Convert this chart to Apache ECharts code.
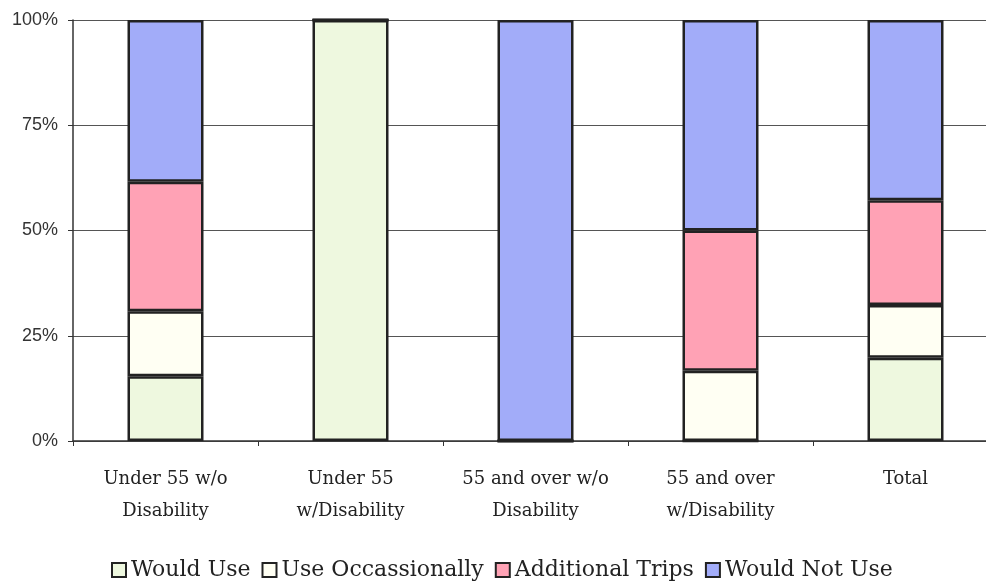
<!DOCTYPE html>
<html>
<head>
<meta charset="utf-8">
<script src="https://cdn.jsdelivr.net/npm/echarts@6/dist/echarts.min.js"></script>
<style>
  html, body { margin: 0; padding: 0; background: #fff; overflow: hidden; }
  /* the chart is a little wider than the window so the plot runs off the right edge */
  #chart { width: 1010px; height: 583px; }
</style>
</head>
<body>
<div id="chart"></div>
<script>
// Respondent groups and the share (%) giving each answer
const categories = ['Under 55 w/o\nDisability', 'Under 55\nw/Disability', '55 and over w/o\nDisability', '55 and over\nw/Disability', 'Total'];
const seriesNames = ['Would Use', 'Use Occassionally', 'Additional Trips', 'Would Not Use'];
const wouldUse        = [15.4, 100, 0, 0, 19.8];
const useOccasionally = [15.4, 0, 0, 16.7, 12.5];
const additionalTrips = [30.8, 0, 0, 33.3, 24.9];
const wouldNotUse     = [38.4, 0, 100, 50, 42.8];
const yTicks = [0, 25, 50, 75, 100];

const colors = ['#eef8df', '#fffff3', '#ffa2b5', '#a2acf9'];
const values = [wouldUse, useOccasionally, additionalTrips, wouldNotUse];

const serif = '"DejaVu Serif", serif';

const chart = echarts.init(document.getElementById('chart'), null, { renderer: 'canvas' });
chart.setOption({
  backgroundColor: '#ffffff',
  animation: false,
  grid: { left: 73, top: 20, width: 925, height: 421, containLabel: false },
  legend: {
    data: seriesNames,
    left: 106,
    top: 554,
    itemWidth: 14,
    itemHeight: 14,
    itemGap: 11,
    icon: 'rect',
    itemStyle: { borderColor: '#222', borderWidth: 2 },
    textStyle: { fontFamily: serif, fontSize: 22, color: '#222' }
  },
  xAxis: {
    type: 'category',
    data: categories,
    boundaryGap: true,
    axisLine: { lineStyle: { color: '#333', width: 1.5 } },
    axisTick: { show: true, length: 5, alignWithLabel: false, lineStyle: { color: '#333' } },
    axisLabel: { fontFamily: serif, fontSize: 18, color: '#222', lineHeight: 32, margin: 22, interval: 0 }
  },
  yAxis: {
    type: 'value',
    min: yTicks[0],
    max: yTicks[yTicks.length - 1],
    interval: 25,
    axisLine: { show: true, lineStyle: { color: '#333', width: 1.5 } },
    axisTick: { show: true, length: 5, lineStyle: { color: '#333' } },
    axisLabel: { formatter: '{value}%', fontFamily: '"Liberation Sans", Arial, sans-serif', fontSize: 18, color: '#333', margin: 15 },
    splitLine: { show: true, lineStyle: { color: '#555', width: 1 } }
  },
  series: seriesNames.map((name, i) => ({
    name: name,
    type: 'bar',
    stack: 'share',
    barWidth: 76,
    data: values[i],
    itemStyle: { color: colors[i], borderColor: '#222', borderWidth: 2.5 }
  }))
});
</script>
</body>
</html>
